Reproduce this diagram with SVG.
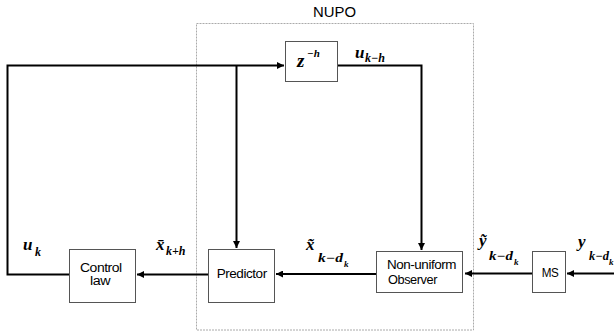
<svg xmlns="http://www.w3.org/2000/svg" width="614" height="333" viewBox="0 0 614 333">
<style>
.box{fill:#fff;stroke:#555;stroke-width:1}
.lbl{font-family:"Liberation Sans",Arial,sans-serif;font-size:12px;fill:#000;letter-spacing:-0.4px}
.m{font-family:"Liberation Serif","Times New Roman",serif;font-weight:bold;font-style:italic;fill:#000}
.conn{fill:none;stroke:#000;stroke-width:2}
</style>
<defs>
<marker id="ah" viewBox="0 0 10 10" refX="10" refY="5" markerWidth="4" markerHeight="3.5" orient="auto" markerUnits="strokeWidth">
<path d="M0,0 L10,5 L0,10 z" fill="#000"/>
</marker>
</defs>
<rect width="614" height="333" fill="#fff"/>
<g id="nupo">
<rect x="196.5" y="23.5" width="277" height="306.5" fill="none" stroke="#aaa" stroke-width="1" stroke-dasharray="2,1"/>
<text x="313" y="16.5" font-family="'Liberation Sans',Arial,sans-serif" font-size="15" textLength="43" lengthAdjust="spacingAndGlyphs">NUPO</text>
</g>
<g id="connectors">
<path class="conn" d="M69,274.5 H7.5 V65.5 H284" marker-end="url(#ah)"/>
<path class="conn" d="M236.5,65.5 V248" marker-end="url(#ah)"/>
<path class="conn" d="M337.5,65.5 H421.5 V250" marker-end="url(#ah)"/>
<path class="conn" d="M208,274.5 H137" marker-end="url(#ah)"/>
<path class="conn" d="M376,274 H276" marker-end="url(#ah)"/>
<path class="conn" d="M532.5,273.5 H465" marker-end="url(#ah)"/>
<path class="conn" d="M614,273.5 H567" marker-end="url(#ah)"/>
</g>
<g id="delay">
<rect class="box" x="285.5" y="41.5" width="52" height="40"/>
<text class="m" x="297" y="67" font-size="19">z</text>
<text class="m" x="307" y="57" font-size="11">−h</text>
</g>
<g id="control-law">
<rect class="box" x="69.5" y="249.5" width="66" height="53"/>
<text class="lbl" x="80" y="271.7" textLength="41.7" lengthAdjust="spacingAndGlyphs">Control</text>
<text class="lbl" x="90" y="285" textLength="20" lengthAdjust="spacingAndGlyphs">law</text>
</g>
<g id="predictor">
<rect class="box" x="208.5" y="249.5" width="66" height="53"/>
<text class="lbl" x="216.7" y="278" textLength="50" lengthAdjust="spacingAndGlyphs">Predictor</text>
</g>
<g id="observer">
<rect class="box" x="376.5" y="251.5" width="86" height="41"/>
<text class="lbl" x="387" y="269.3" textLength="69" lengthAdjust="spacingAndGlyphs">Non-uniform</text>
<text class="lbl" x="388" y="284" textLength="49" lengthAdjust="spacingAndGlyphs">Observer</text>
</g>
<g id="ms">
<rect class="box" x="532.5" y="251.5" width="33" height="41"/>
<text class="lbl" x="541.7" y="277" textLength="16.7" lengthAdjust="spacingAndGlyphs">MS</text>
</g>
<g id="labels">
<text class="m" x="355" y="58" font-size="17">u</text>
<text class="m" x="365" y="62" font-size="12">k−h</text>
<text class="m" x="23" y="250" font-size="17">u</text>
<text class="m" x="35" y="256" font-size="12">k</text>
<text class="m" x="156" y="250" font-size="17">x̄</text>
<text class="m" x="166" y="255" font-size="12">k+h</text>
<text class="m" x="306" y="250" font-size="17">x̃</text>
<text class="m" x="318" y="262" font-size="12" textLength="25" lengthAdjust="spacingAndGlyphs">k−d</text>
<text class="m" x="344" y="267" font-size="9">k</text>
<text class="m" x="479" y="246" font-size="17">ỹ</text>
<text class="m" x="489" y="260" font-size="12" textLength="24" lengthAdjust="spacingAndGlyphs">k−d</text>
<text class="m" x="514" y="265" font-size="9">k</text>
<text class="m" x="578" y="247" font-size="17">y</text>
<text class="m" x="589" y="260" font-size="12" textLength="20" lengthAdjust="spacingAndGlyphs">k−d</text>
<text class="m" x="609" y="265" font-size="9">k</text>
</g>
</svg>
